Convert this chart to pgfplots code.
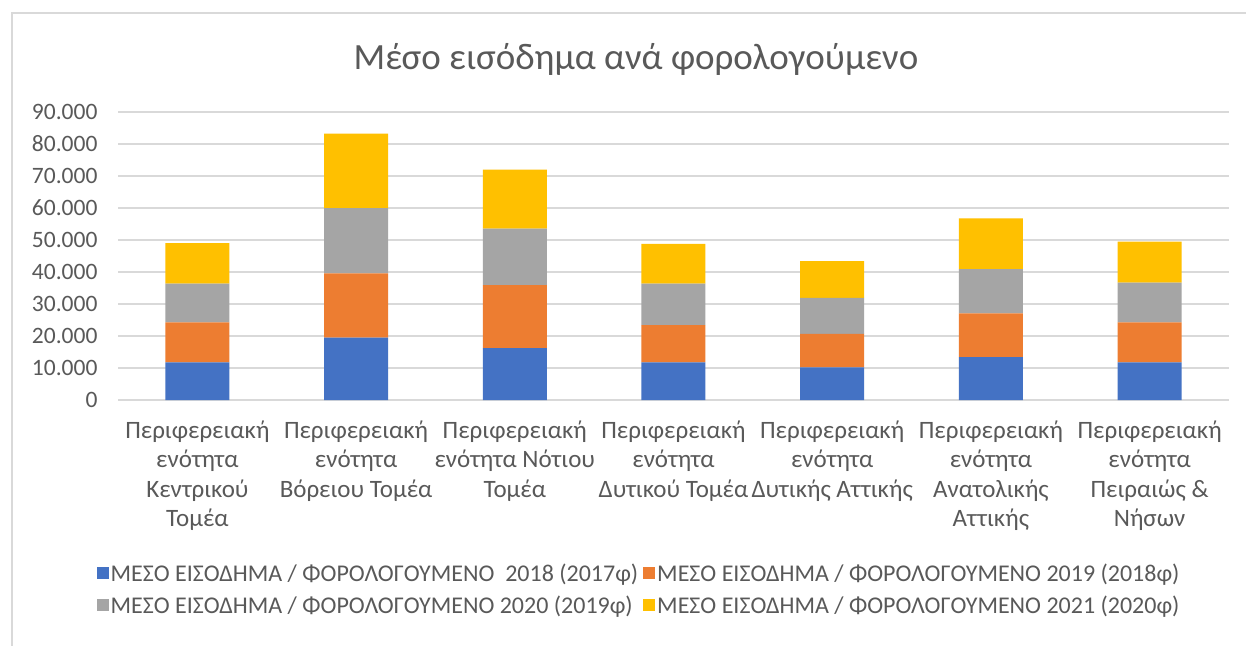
\documentclass[border=0pt]{standalone}
\usepackage{pgfplots}
\pgfplotsset{compat=1.18}
\usepackage{fontspec}
\setmainfont{Carlito}

\definecolor{cblue}{HTML}{4472C4}
\definecolor{corange}{HTML}{ED7D31}
\definecolor{cgray}{HTML}{A5A5A5}
\definecolor{cyellow}{HTML}{FFC000}
\definecolor{ctext}{HTML}{595959}
\definecolor{cgrid}{HTML}{D9D9D9}

\begin{document}
\begin{tikzpicture}
\useasboundingbox (0,0) rectangle (1246pt,-645pt);
\fill[white] (0,0) rectangle (1246pt,-645pt);
\draw[cgrid, line width=1.2pt] (12pt,-700pt) -- (12pt,-13pt) -- (1300pt,-13pt);
\node[text=ctext, font=\fontsize{37}{42}\selectfont] at (636pt,-59pt) {Μέσο εισόδημα ανά φορολογούμενο};

\begin{axis}[
  at={(118pt,-400pt)}, anchor=south west,
  scale only axis, width=1111pt, height=288pt,
  xmin=-0.5, xmax=6.5, ymin=0, ymax=90000,
  ybar stacked, bar width=64pt,
  axis line style={draw=none},
  major tick length=0pt,
  ymajorgrids, grid style={cgrid, line width=1.3pt},
  ytick={0,10000,...,90000},
  scaled y ticks=false,
  /pgf/number format/.cd, fixed, 1000 sep={.}, assume math mode=true, /pgfplots/.cd,
  yticklabel style={text=ctext, font=\fontsize{23.5}{26}\selectfont, anchor=east, xshift=-17pt},
  xtick={0,...,6},
  xticklabels={
    {Περιφερειακή\\ενότητα\\Κεντρικού\\Τομέα},
    {Περιφερειακή\\ενότητα\\Βόρειου Τομέα},
    {Περιφερειακή\\ενότητα Νότιου\\Τομέα},
    {Περιφερειακή\\ενότητα\\Δυτικού Τομέα},
    {Περιφερειακή\\ενότητα\\Δυτικής Αττικής},
    {Περιφερειακή\\ενότητα\\Ανατολικής\\Αττικής},
    {Περιφερειακή\\ενότητα\\Πειραιώς \&\\Νήσων}},
  xticklabel style={text=ctext, font=\fontsize{25}{29.5}\selectfont, align=center, anchor=north, yshift=-17pt},
  legend columns=2,
  legend cell align=left,
  legend style={at={(0.469,-0.553)}, anchor=north, draw=none, fill=none,
    text=ctext, font=\fontsize{24}{27}\selectfont,
    /tikz/every even column/.append style={column sep=3pt},
    row sep=9pt},
  legend image code/.code={\fill[#1] (0pt,-6pt) rectangle (12pt,6pt);},
]
\addplot[fill=cblue, draw=none] coordinates {(0,11770) (1,19480) (2,16250) (3,11770) (4,10210) (5,13440) (6,11770)};
\addlegendentry{ΜΕΣΟ ΕΙΣΟΔΗΜΑ / ΦΟΡΟΛΟΓΟΥΜΕΝΟ\ \ 2018 (2017φ)}
\addplot[fill=corange, draw=none] coordinates {(0,12500) (1,20100) (2,19690) (3,11670) (4,10420) (5,13640) (6,12500)};
\addlegendentry{ΜΕΣΟ ΕΙΣΟΔΗΜΑ / ΦΟΡΟΛΟΓΟΥΜΕΝΟ 2019 (2018φ)}
\addplot[fill=cgray, draw=none] coordinates {(0,12080) (1,20420) (2,17600) (3,12920) (4,11250) (5,13860) (6,12400)};
\addlegendentry{ΜΕΣΟ ΕΙΣΟΔΗΜΑ / ΦΟΡΟΛΟΓΟΥΜΕΝΟ 2020 (2019φ)}
\addplot[fill=cyellow, draw=none] coordinates {(0,12710) (1,23230) (2,18440) (3,12400) (4,11560) (5,15830) (6,12810)};
\addlegendentry{ΜΕΣΟ ΕΙΣΟΔΗΜΑ / ΦΟΡΟΛΟΓΟΥΜΕΝΟ 2021 (2020φ)}
\end{axis}
\end{tikzpicture}
\end{document}
